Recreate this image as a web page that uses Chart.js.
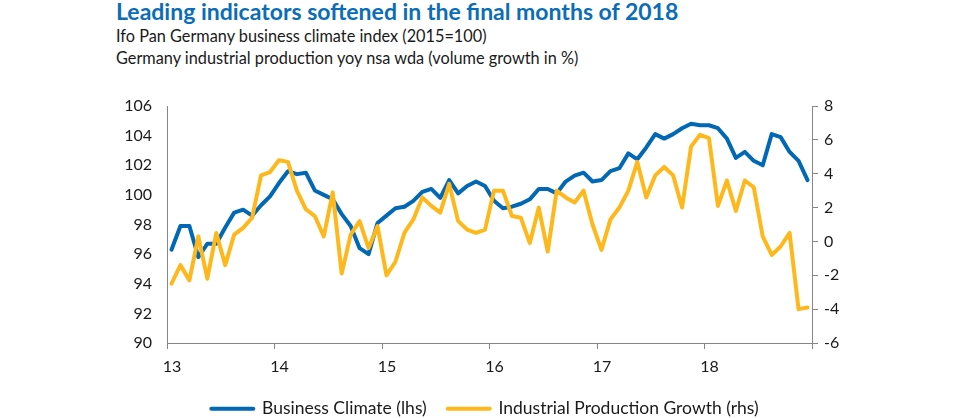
<!DOCTYPE html>
<html>
<head>
<meta charset="utf-8">
<script src="https://cdn.jsdelivr.net/npm/chart.js@4/dist/chart.umd.min.js"></script>
<style>
  body { margin: 0; background: #fff; }
  #wrap { position: relative; width: 960px; height: 418px; font-family: Lato, 'Liberation Sans', sans-serif; }
  .title { position: absolute; left: 116px; top: -3px; font-size: 23px; font-weight: 700; color: #0b6db7; white-space: nowrap; }
  .sub { position: absolute; left: 116px; font-size: 16.3px; color: #1a1a1a; white-space: nowrap; }
  canvas { position: absolute; left: 0; top: 0; }
</style>
</head>
<body>
<div id="wrap">
  <div class="title">Leading indicators softened in the final months of 2018</div>
  <div class="sub" style="top:26px">Ifo Pan Germany business climate index (2015=100)</div>
  <div class="sub" style="top:48px">Germany industrial production yoy nsa wda (volume growth in %)</div>
  <canvas id="chart" width="960" height="418"></canvas>
</div>
<script>
// ==================== DATA ====================
// monthly, Jan 2013 .. Dec 2018
const yearLabels = ['13', '14', '15', '16', '17', '18', ''];

const businessClimate = [
  96.3, 97.9, 97.9, 95.8, 96.7, 96.7, 97.8, 98.8, 99.0, 98.6, 99.3, 99.9,   // 2013
  100.8, 101.6, 101.4, 101.5, 100.3, 100.0, 99.7, 98.7, 97.9, 96.4, 96.0, 98.1, // 2014
  98.6, 99.1, 99.2, 99.6, 100.2, 100.4, 99.8, 101.0, 100.1, 100.6, 100.9, 100.6, // 2015
  99.6, 99.1, 99.2, 99.4, 99.7, 100.4, 100.4, 100.1, 100.9, 101.3, 101.5, 100.9, // 2016
  101.0, 101.6, 101.8, 102.8, 102.4, 103.2, 104.1, 103.8, 104.1, 104.5, 104.8, 104.7, // 2017
  104.7, 104.5, 103.8, 102.5, 102.9, 102.3, 102.0, 104.1, 103.9, 102.9, 102.3, 101.0  // 2018
];

const industrialProduction = [
  -2.5, -1.4, -2.3, 0.3, -2.2, 0.5, -1.4, 0.4, 0.8, 1.4, 3.9, 4.1,   // 2013
  4.8, 4.7, 3.0, 1.9, 1.5, 0.3, 2.9, -1.9, 0.4, 1.2, -0.4, 0.9,      // 2014
  -2.0, -1.2, 0.5, 1.3, 2.6, 2.1, 1.7, 3.4, 1.2, 0.7, 0.5, 0.7,      // 2015
  3.0, 3.0, 1.5, 1.4, -0.1, 2.0, -0.6, 3.0, 2.6, 2.3, 3.0, 1.0,      // 2016
  -0.5, 1.3, 2.0, 3.0, 4.7, 2.6, 3.9, 4.4, 3.9, 2.0, 5.6, 6.3,       // 2017
  6.1, 2.1, 3.6, 1.8, 3.6, 3.2, 0.3, -0.8, -0.3, 0.5, -4.0, -3.9     // 2018
];

const BLUE = '#0068b4';
const ORANGE = '#ffb81c';
const AXIS = '#868686';
const FONT = "Lato, 'Liberation Sans', sans-serif";

const toPoints = arr => arr.map((v, i) => ({ x: i + 0.5, y: v }));

const ctx = document.getElementById('chart').getContext('2d');
const chart = new Chart(ctx, {
  type: 'line',
  data: {
    datasets: [{
      label: 'Business Climate (lhs)',
      data: toPoints(businessClimate),
      borderColor: BLUE,
      backgroundColor: BLUE,
      borderWidth: 4,
      borderJoinStyle: 'round',
      borderCapStyle: 'round',
      pointRadius: 0,
      tension: 0,
      yAxisID: 'yL',
      order: 2
    }, {
      label: 'Industrial Production Growth (rhs)',
      data: toPoints(industrialProduction),
      borderColor: ORANGE,
      backgroundColor: ORANGE,
      borderWidth: 4,
      borderJoinStyle: 'round',
      borderCapStyle: 'round',
      pointRadius: 0,
      tension: 0,
      yAxisID: 'yR',
      order: 1
    }]
  },
  options: {
    responsive: false,
    animation: false,
    layout: { padding: { left: 116, right: 106, top: 106, bottom: 0 } },
    plugins: {
      tooltip: { enabled: false },
      legend: {
        position: 'bottom',
        maxHeight: 39,
        labels: {
          padding: 21,
          usePointStyle: true,
          pointStyleWidth: 42,
          font: { family: FONT, size: 17.5 },
          color: '#1a1a1a',
          generateLabels: c => c.data.datasets.map((ds, i) => ({
            text: ds.label,
            fillStyle: ds.borderColor,
            strokeStyle: ds.borderColor,
            lineWidth: 4,
            lineCap: 'round',
            pointStyle: 'line',
            fontColor: '#1a1a1a',
            hidden: false,
            datasetIndex: i
          }))
        }
      }
    },
    scales: {
      x: {
        type: 'linear',
        min: 0,
        max: 72,
        afterFit: s => { s.height = 36; },
        afterBuildTicks: s => { s.ticks = yearLabels.map((_, i) => ({ value: i * 12 })); },
        ticks: {
          autoSkip: false,
          maxRotation: 0,
          labelOffset: 5,
          padding: 8,
          color: '#1a1a1a',
          font: { family: FONT, size: 16 },
          callback: (v) => yearLabels[v / 12]
        },
        grid: { drawOnChartArea: false, drawTicks: true, tickLength: 6, color: AXIS },
        border: { display: true, color: AXIS, width: 1 }
      },
      yL: {
        position: 'left',
        min: 90,
        max: 106,
        afterFit: s => { s.width = 51; },
        ticks: { stepSize: 2, padding: 15, color: '#1a1a1a', font: { family: FONT, size: 16 } },
        grid: { display: false, drawTicks: false },
        border: { display: true, color: AXIS, width: 1 }
      },
      yR: {
        position: 'right',
        min: -6,
        max: 8,
        afterFit: s => { s.width = 42; },
        ticks: { stepSize: 2, padding: 6, color: '#1a1a1a', font: { family: FONT, size: 16 } },
        grid: { drawOnChartArea: false, drawTicks: true, tickLength: 6, color: AXIS },
        border: { display: true, color: AXIS, width: 1 }
      }
    }
  }
});
</script>
</body>
</html>
